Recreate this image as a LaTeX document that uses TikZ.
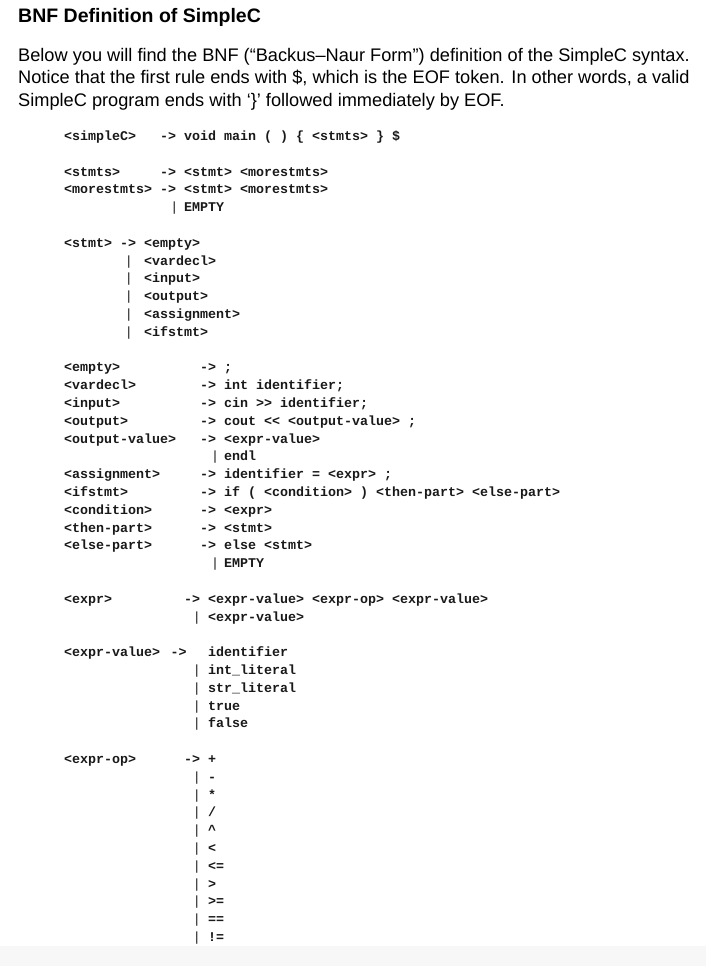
\documentclass[tikz,border=0pt]{standalone}
\usepackage{fontspec}
\setmainfont{Liberation Sans}
\newfontfamily\codefont[Ligatures=NoCommon]{Liberation Mono}
\begin{document}
\begin{tikzpicture}[x=1pt,y=1pt,
  code/.style={anchor=base west,inner sep=0pt,font=\codefont\bfseries\fontsize{13.33}{15}\selectfont,text=black!90},
  bar/.style={anchor=base,inner sep=0pt,font=\codefont\fontsize{13.33}{15}\selectfont,text=black!90},
  body/.style={anchor=base west,inner sep=0pt,font=\fontsize{18.2}{21}\selectfont}]
\fill[white] (0,0) rectangle (706,-966);
\fill[black!3] (0,-946) rectangle (706,-966);
% #1 name, #2 column, #3 row, #4 text
\newcommand\cd[4]{\node[code] (#1) at ({64+#2*8},{-(140.5+17.8*#3)}) {#4};}
\newcommand\br[3]{\node[bar] (#1) at ({64+#2*8},{-(140.5+17.8*#3)}) {|};}
\node[body,font=\bfseries\fontsize{19.5}{22}\selectfont] (title) at (18,-23) {BNF Definition of SimpleC};
\node[body] (p1) at (18,-62) {Below you will find the BNF (“Backus–Naur Form”) definition of the SimpleC syntax.};
\node[body] (p2) at (18,-84) {Notice that the first rule ends with \$, which is the EOF token. In other words, a valid};
\node[body] (p3) at (18,-106) {SimpleC program ends with ‘\}’ followed immediately by EOF.};
% block 1
\cd{a1}{0}{0}{<simpleC>}\cd{a1r}{12}{0}{-> void main ( ) \{ <stmts> \} \$}
\cd{a2}{0}{2}{<stmts>}\cd{a2r}{12}{2}{-> <stmt> <morestmts>}
\cd{a3}{0}{3}{<morestmts>}\cd{a3r}{12}{3}{-> <stmt> <morestmts>}
\br{a4}{13.8}{4}\cd{a4r}{15}{4}{EMPTY}
% stmt
\cd{b1}{0}{6}{<stmt>}\cd{b1r}{7}{6}{-> <empty>}
\br{b2}{8.1}{7}\cd{b2r}{10}{7}{<vardecl>}
\br{b3}{8.1}{8}\cd{b3r}{10}{8}{<input>}
\br{b4}{8.1}{9}\cd{b4r}{10}{9}{<output>}
\br{b5}{8.1}{10}\cd{b5r}{10}{10}{<assignment>}
\br{b6}{8.1}{11}\cd{b6r}{10}{11}{<ifstmt>}
% block 3
\cd{c1}{0}{13}{<empty>}\cd{c1r}{17}{13}{-> ;}
\cd{c2}{0}{14}{<vardecl>}\cd{c2r}{17}{14}{-> int identifier;}
\cd{c3}{0}{15}{<input>}\cd{c3r}{17}{15}{-> cin >> identifier;}
\cd{c4}{0}{16}{<output>}\cd{c4r}{17}{16}{-> cout << <output-value> ;}
\cd{c5}{0}{17}{<output-value>}\cd{c5r}{17}{17}{-> <expr-value>}
\br{c6}{18.9}{18}\cd{c6r}{20}{18}{endl}
\cd{c7}{0}{19}{<assignment>}\cd{c7r}{17}{19}{-> identifier = <expr> ;}
\cd{c8}{0}{20}{<ifstmt>}\cd{c8r}{17}{20}{-> if ( <condition> ) <then-part> <else-part>}
\cd{c9}{0}{21}{<condition>}\cd{c9r}{17}{21}{-> <expr>}
\cd{c10}{0}{22}{<then-part>}\cd{c10r}{17}{22}{-> <stmt>}
\cd{c11}{0}{23}{<else-part>}\cd{c11r}{17}{23}{-> else <stmt>}
\br{c12}{18.9}{24}\cd{c12r}{20}{24}{EMPTY}
% expr
\cd{d1}{0}{26}{<expr>}\cd{d1r}{15}{26}{-> <expr-value> <expr-op> <expr-value>}
\br{d2}{16.6}{27}\cd{d2r}{18}{27}{<expr-value>}
% expr-value
\cd{e1}{0}{29}{<expr-value>}\cd{e1r}{13.3}{29}{->}\cd{e1t}{18}{29}{identifier}
\br{e2}{16.6}{30}\cd{e2r}{18}{30}{int\_literal}
\br{e3}{16.6}{31}\cd{e3r}{18}{31}{str\_literal}
\br{e4}{16.6}{32}\cd{e4r}{18}{32}{true}
\br{e5}{16.6}{33}\cd{e5r}{18}{33}{false}
% expr-op
\cd{f1}{0}{35}{<expr-op>}\cd{f1r}{15}{35}{-> +}
\br{f2}{16.6}{36}\cd{f2r}{18}{36}{-}
\br{f3}{16.6}{37}\cd{f3r}{18}{37}{*}
\br{f4}{16.6}{38}\cd{f4r}{18}{38}{/}
\br{f5}{16.6}{39}\cd{f5r}{18}{39}{\^{}}
\br{f6}{16.6}{40}\cd{f6r}{18}{40}{<}
\br{f7}{16.6}{41}\cd{f7r}{18}{41}{<=}
\br{f8}{16.6}{42}\cd{f8r}{18}{42}{>}
\br{f9}{16.6}{43}\cd{f9r}{18}{43}{>=}
\br{f10}{16.6}{44}\cd{f10r}{18}{44}{==}
\br{f11}{16.6}{45}\cd{f11r}{18}{45}{!=}
\end{tikzpicture}
\end{document}
